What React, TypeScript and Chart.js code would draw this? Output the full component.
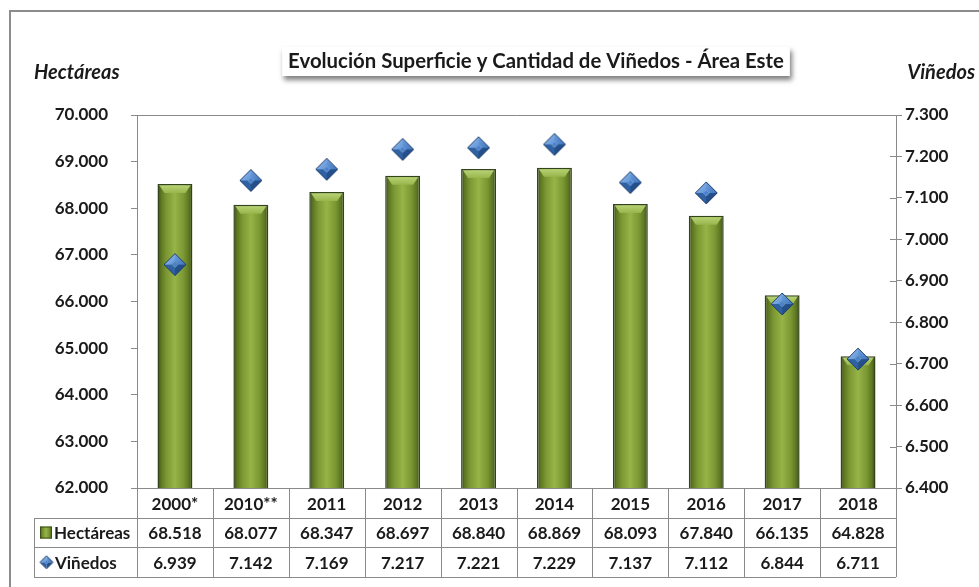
import React, { useEffect, useRef } from 'react';
import { Chart, registerables } from 'chart.js';
Chart.register(...registerables);

const categories = ['2000*', '2010**', '2011', '2012', '2013', '2014', '2015', '2016', '2017', '2018'];
const hectareas = [68518, 68077, 68347, 68697, 68840, 68869, 68093, 67840, 66135, 64828];
const vinedos = [6939, 7142, 7169, 7217, 7221, 7229, 7137, 7112, 6844, 6711];
const leftMin = 62000;
const leftMax = 70000;
const leftStep = 1000;
const rightMin = 6400;
const rightMax = 7300;
const rightStep = 100;
const chartTitle = 'Evolución Superficie y Cantidad de Viñedos - Área Este';
const leftAxisTitle = 'Hectáreas';
const rightAxisTitle = 'Viñedos';
const seriesNames = ['Hectáreas', 'Viñedos'];

const FONT = 'Lato, "Open Sans", "DejaVu Sans", sans-serif';
const W = 'bold';
const LINE = '#8a8a8a';
const TEXT = '#1a1a1a';

function fmt(v: number): string {
  return Math.round(v).toString().replace(/\B(?=(\d{3})+(?!\d))/g, '.');
}

function makeDiamond(size: number): HTMLCanvasElement {
  const c = document.createElement('canvas');
  c.width = size;
  c.height = size;
  const g = c.getContext('2d')!;
  const h = size / 2;
  const r = h - 1;
  const cx = h, cy = h;
  const inner = r * 0.3;
  const T = [cx, cy - r], R = [cx + r, cy], B = [cx, cy + r], L = [cx - r, cy];
  const it = [cx, cy - inner], ir = [cx + inner, cy], ib = [cx, cy + inner], il = [cx - inner, cy];
  const poly = (pts: number[][], fill: string | CanvasGradient) => {
    g.beginPath();
    g.moveTo(pts[0][0], pts[0][1]);
    for (let i = 1; i < pts.length; i++) g.lineTo(pts[i][0], pts[i][1]);
    g.closePath();
    g.fillStyle = fill;
    g.fill();
  };
  const tl = g.createLinearGradient(cx - r, cy - r, cx, cy);
  tl.addColorStop(0, '#a9c9f0');
  tl.addColorStop(1, '#5a90d6');
  poly([L, T, it, il], tl);
  const tr = g.createLinearGradient(cx, cy - r, cx + r, cy);
  tr.addColorStop(0, '#6fa0de');
  tr.addColorStop(1, '#3f74bd');
  poly([T, R, ir, it], tr);
  poly([R, B, ib, ir], '#244f8a');
  poly([B, L, il, ib], '#2f61a3');
  poly([it, ir, ib, il], '#4a83cc');
  g.beginPath();
  g.moveTo(T[0], T[1]); g.lineTo(R[0], R[1]); g.lineTo(B[0], B[1]); g.lineTo(L[0], L[1]); g.closePath();
  g.strokeStyle = '#1f3f6e';
  g.lineWidth = 1;
  g.stroke();
  return c;
}

const BAR_PCT = 0.46;

function barGradient(ctx: CanvasRenderingContext2D, x0: number, x1: number) {
  const g = ctx.createLinearGradient(x0, 0, x1, 0);
  g.addColorStop(0, '#3a4c16');
  g.addColorStop(0.1, '#5c7622');
  g.addColorStop(0.25, '#7b9733');
  g.addColorStop(0.5, '#96b447');
  g.addColorStop(0.75, '#7b9733');
  g.addColorStop(0.9, '#5c7622');
  g.addColorStop(1, '#3a4c16');
  return g;
}

export default function App() {
  const ref = useRef<HTMLCanvasElement | null>(null);

  useEffect(() => {
    document.body.style.margin = '0';
    const canvas = ref.current!;
    const diamond = makeDiamond(24);
    const smallDiamond = makeDiamond(15);

    const decorPlugin = {
      id: 'decor',
      beforeDraw(chart: any) {
        const ctx: CanvasRenderingContext2D = chart.ctx;
        ctx.save();
        ctx.fillStyle = '#ffffff';
        ctx.fillRect(0, 0, chart.width, chart.height);
        ctx.strokeStyle = '#8c8c8c';
        ctx.lineWidth = 2;
        ctx.beginPath();
        ctx.moveTo(10, chart.height);
        ctx.lineTo(10, 11);
        ctx.lineTo(chart.width, 11);
        ctx.stroke();

        let size = 20;
        ctx.font = `bold ${size}px ${FONT}`;
        const w0 = ctx.measureText(chartTitle).width;
        size = size * 496 / w0;
        ctx.font = `bold ${size}px ${FONT}`;
        const tw = ctx.measureText(chartTitle).width;
        const cx = 536;
        const bx = cx - tw / 2 - 6, by = 47, bw = tw + 12, bh = 29;
        ctx.save();
        ctx.shadowColor = 'rgba(0,0,0,0.5)';
        ctx.shadowBlur = 5;
        ctx.shadowOffsetX = 2;
        ctx.shadowOffsetY = 4;
        ctx.fillStyle = '#ffffff';
        ctx.fillRect(bx, by, bw, bh);
        ctx.restore();
        ctx.fillStyle = TEXT;
        ctx.textAlign = 'center';
        ctx.textBaseline = 'middle';
        ctx.fillText(chartTitle, cx, by + bh / 2);

        ctx.font = `italic bold 20px ${FONT}`;
        ctx.textAlign = 'left';
        ctx.fillText(leftAxisTitle, 34, 73);
        ctx.textAlign = 'right';
        ctx.fillText(rightAxisTitle, 975, 73);
        ctx.restore();
      },
      afterDatasetDraw(chart: any, args: any) {
        if (args.index !== 1) return;
        const ctx: CanvasRenderingContext2D = chart.ctx;
        const meta = chart.getDatasetMeta(1);
        ctx.save();
        meta.data.forEach((bar: any) => {
          const { x, y, width, base } = bar.getProps(['x', 'y', 'width', 'base'], true);
          if (![x, y, width, base].every((v: number) => Number.isFinite(v))) return;
          const l = x - width / 2, r = x + width / 2;
          const g = ctx.createLinearGradient(0, y, 0, y + 9);
          g.addColorStop(0, '#bcd77a');
          g.addColorStop(1, '#98b54c');
          ctx.beginPath();
          ctx.moveTo(l + 2, y + 1.5);
          ctx.lineTo(r - 2, y + 1.5);
          ctx.lineTo(r - 7, y + 9);
          ctx.lineTo(l + 7, y + 9);
          ctx.closePath();
          ctx.fillStyle = g;
          ctx.fill();
          const gb = ctx.createLinearGradient(0, base - 6, 0, base);
          gb.addColorStop(0, 'rgba(60,79,24,0)');
          gb.addColorStop(1, 'rgba(60,79,24,0.6)');
          ctx.fillStyle = gb;
          ctx.fillRect(l + 2, base - 6, width - 4, 5);
        });
        ctx.restore();
      },
      afterDraw(chart: any) {
        const ctx: CanvasRenderingContext2D = chart.ctx;
        const ca = chart.chartArea;
        const n = categories.length;
        const colW = (ca.right - ca.left) / n;
        const rowH = 29.7;
        const top = ca.bottom;
        ctx.save();
        ctx.strokeStyle = LINE;
        ctx.lineWidth = 1;
        ctx.beginPath();
        ctx.moveTo(ca.left, Math.round(ca.top) + 0.5);
        ctx.lineTo(ca.right, Math.round(ca.top) + 0.5);
        // inner tick marks on right axis (crossing ticks)
        const y1s = chart.scales.y1;
        y1s.ticks.forEach((t: any) => {
          const yy = Math.round(y1s.getPixelForValue(t.value)) + 0.5;
          ctx.moveTo(ca.right - 6, yy);
          ctx.lineTo(ca.right, yy);
        });
        ctx.stroke();
        ctx.beginPath();
        for (let i = 0; i <= n; i++) {
          const x = Math.round(ca.left + i * colW) + 0.5;
          ctx.moveTo(x, top);
          ctx.lineTo(x, top + 3 * rowH);
        }
        for (let k = 1; k <= 3; k++) {
          const y = Math.round(top + k * rowH) + 0.5;
          ctx.moveTo(34, y);
          ctx.lineTo(ca.right, y);
        }
        ctx.moveTo(34.5, Math.round(top + rowH));
        ctx.lineTo(34.5, Math.round(top + 3 * rowH));
        ctx.stroke();

        ctx.fillStyle = TEXT;
        ctx.font = `${W} 17px ${FONT}`;
        ctx.textAlign = 'center';
        ctx.textBaseline = 'middle';
        for (let i = 0; i < n; i++) {
          const x = ca.left + (i + 0.5) * colW;
          ctx.fillText(fmt(hectareas[i]), x, top + rowH * 1.5 + 1);
          ctx.fillText(fmt(vinedos[i]), x, top + rowH * 2.5 + 1);
        }
        const y2 = top + rowH * 1.5;
        const y3 = top + rowH * 2.5;
        ctx.fillStyle = barGradient(ctx, 40, 52);
        ctx.fillRect(40, y2 - 6, 12, 12);
        ctx.strokeStyle = '#3c4f18';
        ctx.strokeRect(40.5, y2 - 5.5, 11, 11);
        ctx.drawImage(smallDiamond, 39, y3 - 7.5);
        ctx.fillStyle = TEXT;
        ctx.textAlign = 'left';
        ctx.fillText(seriesNames[0], 54, y2 + 1);
        ctx.fillText(seriesNames[1], 55, y3 + 1);
        ctx.restore();
      },
    };

    const tickFont = { family: FONT, size: 17, weight: W };

    const chart = new Chart(canvas, {
      data: {
        labels: categories,
        datasets: [
          {
            type: 'line',
            label: seriesNames[1],
            data: vinedos,
            yAxisID: 'y1',
            showLine: false,
            pointStyle: diamond as any,
            pointRadius: 12,
            order: 0,
          } as any,
          {
            type: 'bar',
            label: seriesNames[0],
            data: hectareas,
            yAxisID: 'y',
            barPercentage: BAR_PCT,
            categoryPercentage: 1,
            borderColor: '#33441a',
            borderWidth: 1.5,
            borderSkipped: false,
            backgroundColor: (c: any) => {
              const ch = c.chart;
              const xs = ch.scales && ch.scales.x;
              if (!xs || c.dataIndex == null || !ch.chartArea) return '#7f9b35';
              const x = xs.getPixelForValue(c.dataIndex);
              const hw = ((xs.right - xs.left) / categories.length) * BAR_PCT / 2;
              if (!Number.isFinite(x) || !Number.isFinite(hw) || hw <= 0) return '#7f9b35';
              return barGradient(ch.ctx, x - hw, x + hw);
            },
            order: 1,
          } as any,
        ],
      },
      options: {
        responsive: false,
        animation: false,
        devicePixelRatio: 1,
        layout: { padding: { top: 115, bottom: 10, left: 0, right: 0 } },
        plugins: {
          legend: { display: false },
          title: { display: false },
          tooltip: { enabled: false },
        },
        scales: {
          x: {
            type: 'category',
            grid: { display: false, drawTicks: false, tickLength: 0 },
            border: { display: true, color: LINE, width: 1 },
            ticks: {
              color: TEXT,
              font: tickFont,
              padding: 6,
              maxRotation: 0,
              autoSkip: false,
            },
            afterFit: (s: any) => { s.height = 89; },
          },
          y: {
            type: 'linear',
            position: 'left',
            min: leftMin,
            max: leftMax,
            ticks: {
              stepSize: leftStep,
              callback: (v: any) => fmt(Number(v)),
              color: TEXT,
              font: tickFont,
              padding: 23,
            },
            grid: { drawOnChartArea: false, tickLength: 6, color: LINE },
            border: { display: true, color: LINE, width: 1 },
            afterFit: (s: any) => { s.width = 137; },
          },
          y1: {
            type: 'linear',
            position: 'right',
            min: rightMin,
            max: rightMax,
            ticks: {
              stepSize: rightStep,
              callback: (v: any) => fmt(Number(v)),
              color: TEXT,
              font: tickFont,
              padding: 3,
            },
            grid: { drawOnChartArea: false, tickLength: 6, color: LINE },
            border: { display: true, color: LINE, width: 1 },
            afterFit: (s: any) => { s.width = 83; },
          },
        },
      } as any,
      plugins: [decorPlugin],
    } as any);

    return () => chart.destroy();
  }, []);

  return <canvas ref={ref} width={979} height={587} style={{ display: 'block' }} />;
}
